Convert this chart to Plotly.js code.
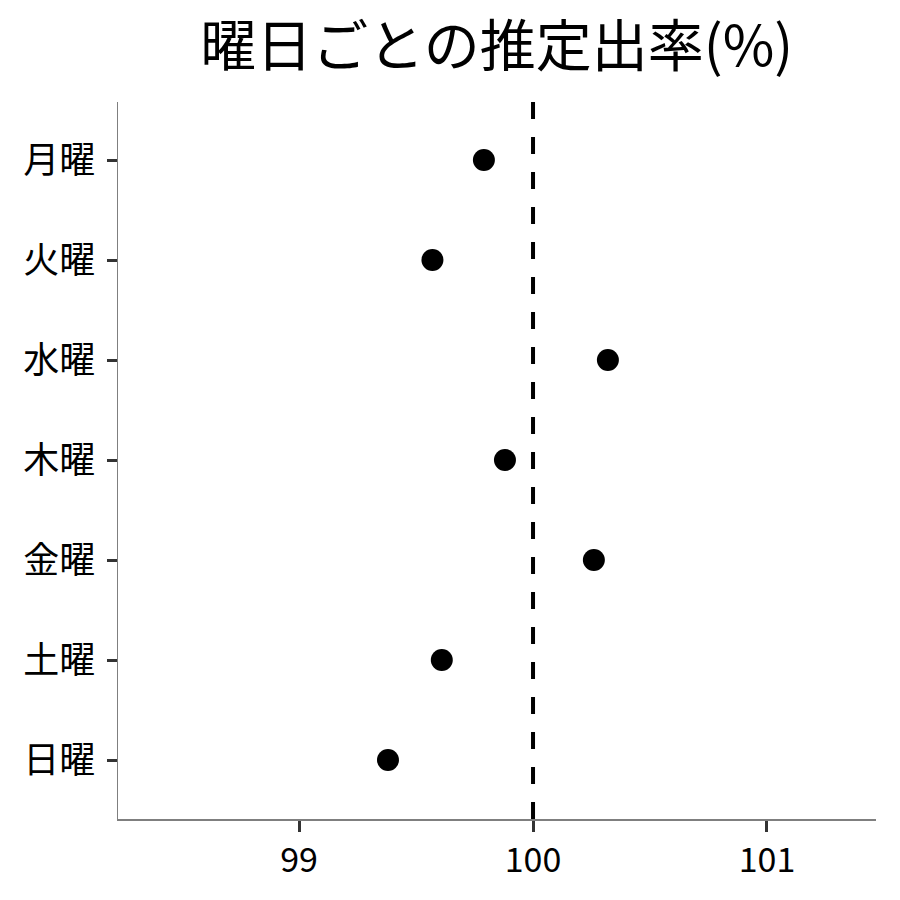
<!DOCTYPE html>
<html><head><meta charset="utf-8">
<script src="https://cdn.plot.ly/plotly-3.0.1.min.js"></script>
<style>body{margin:0;background:#fff}#c{width:900px;height:900px}</style>
</head><body><div id="c"></div>
<script>
const days = ["月曜","火曜","水曜","木曜","金曜","土曜","日曜"];
const rates = [99.79, 99.57, 100.32, 99.88, 100.26, 99.61, 99.38];
const refValue = 100;
const xTicks = [99, 100, 101];
const titleText = "曜日ごとの推定出率(%)";

const font = "Noto Sans CJK JP";
Plotly.newPlot("c", [{
  type: "scatter", mode: "markers",
  x: rates, y: days,
  marker: {color: "#000", size: 22},
  hoverinfo: "x+y"
}], {
  width: 900, height: 900,
  margin: {l: 118, r: 24, t: 102, b: 81},
  paper_bgcolor: "#fff", plot_bgcolor: "#fff",
  showlegend: false,
  font: {family: font, color: "#000"},
  title: {text: titleText, font: {family: font, size: 56, color: "#000"},
          x: 0.552, xanchor: "center", y: 0.948, yanchor: "middle"},
  xaxis: {range: [98.226, 101.466], tickvals: xTicks, ticktext: xTicks.map(String),
          showgrid: false, zeroline: false, showline: true, linecolor: "#7f7f7f", linewidth: 1.5,
          ticks: "outside", ticklen: 11, tickwidth: 3, tickcolor: "#333",
          tickfont: {family: font, size: 34, color: "#000"}},
  yaxis: {type: "category", categoryorder: "array", categoryarray: days,
          range: [6.59, -0.58], showgrid: false, zeroline: false,
          showline: true, linecolor: "#7f7f7f", linewidth: 1.5,
          ticks: "outside", ticklen: 10, tickwidth: 3, tickcolor: "#333",
          ticklabelstandoff: 4,
          tickfont: {family: font, size: 36, color: "#000"}},
  shapes: [{type: "line", xref: "x", yref: "paper", x0: refValue, x1: refValue, y0: 0, y1: 1,
            line: {color: "#000", width: 4, dash: "17px,18px"}, layer: "below"}]
}, {displayModeBar: false, staticPlot: true});
</script></body></html>
